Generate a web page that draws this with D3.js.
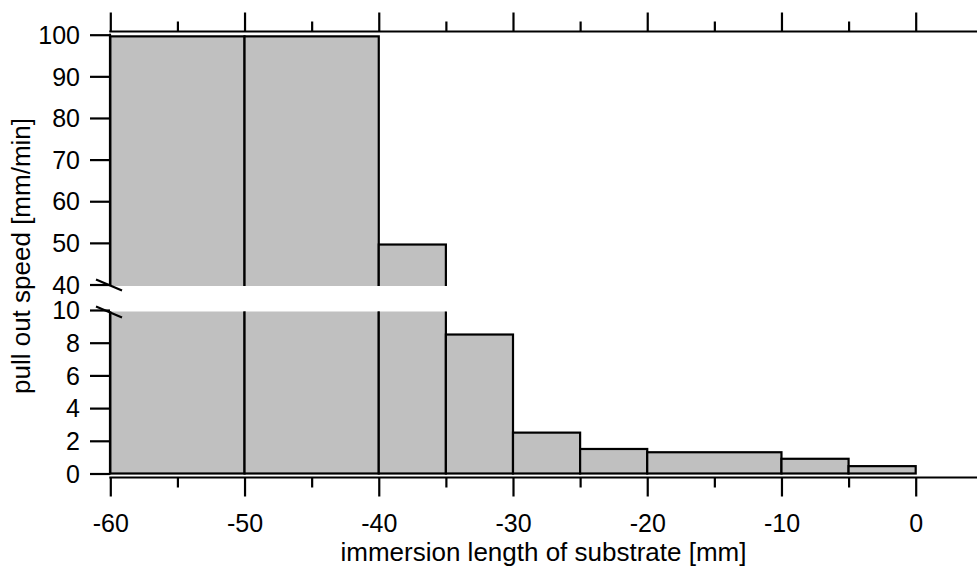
<!DOCTYPE html>
<html>
<head>
<meta charset="utf-8">
<script src="https://cdn.jsdelivr.net/npm/d3@7"></script>
<style>
  html, body { margin: 0; padding: 0; background: #fff; }
  svg { display: block; }
  text { font-family: "Liberation Sans", Arial, sans-serif; fill: #000; }
</style>
</head>
<body>
<svg id="chart" width="977" height="572"></svg>
<script>
// ---- data ----
const binStarts = [-60, -50, -40, -35, -30, -25, -20, -10, -5];
const binEnds   = [-50, -40, -35, -30, -25, -20, -10, -5, 0];
const speeds    = [99.6, 99.6, 49.6, 8.5, 2.5, 1.5, 1.3, 0.9, 0.45];
const xMajorTicks = [-60, -50, -40, -30, -20, -10, 0];
const xMinorTicks = [-55, -45, -35, -25, -15, -5];
const yUpperTicks = [40, 50, 60, 70, 80, 90, 100];
const yLowerTicks = [0, 2, 4, 6, 8, 10];
const xLabel = "immersion length of substrate [mm]";
const yLabel = "pull out speed [mm/min]";

const bins = binStarts.map((s, i) => ({ x0: s, x1: binEnds[i], v: speeds[i] }));

// ---- layout ----
const svg = d3.select("#chart");
const axisLeftX = 110;
const axisRightEnd = 977;
const x = d3.scaleLinear().domain([-60, 0]).range([110.3, 915.7]);
const yUp = d3.scaleLinear().domain([40, 100]).range([284.5, 34.7]);
const yLo = d3.scaleLinear().domain([0, 10]).range([473.5, 310]);
const upClipBottom = 286;
const loClipTop = 311.5;
const topAxisY = 31.5;
const botAxisY = 477.5;
const fontSize = 25;
const fill = "#c0c0c0";
const sw = 2.2;
const fmt = d => String(d);

const defs = svg.append("defs");
defs.append("clipPath").attr("id", "clipUp")
  .append("rect").attr("x", 0).attr("y", 0).attr("width", 977).attr("height", upClipBottom);
defs.append("clipPath").attr("id", "clipLo")
  .append("rect").attr("x", 0).attr("y", loClipTop).attr("width", 977).attr("height", 572 - loClipTop);

// upper panel bars
svg.append("g").attr("clip-path", "url(#clipUp)")
  .selectAll("rect").data(bins.filter(d => d.v > 40)).join("rect")
  .attr("x", d => x(d.x0)).attr("width", d => x(d.x1) - x(d.x0))
  .attr("y", d => yUp(d.v)).attr("height", d => yUp(30) - yUp(d.v))
  .attr("fill", fill).attr("stroke", "#000").attr("stroke-width", sw);

// lower panel bars
svg.append("g").attr("clip-path", "url(#clipLo)")
  .selectAll("rect").data(bins).join("rect")
  .attr("x", d => x(d.x0)).attr("width", d => x(d.x1) - x(d.x0))
  .attr("y", d => d.v > 10 ? yLo(12) : yLo(d.v))
  .attr("height", d => yLo(0) - (d.v > 10 ? yLo(12) : yLo(d.v)))
  .attr("fill", fill).attr("stroke", "#000").attr("stroke-width", sw);

// left axis, upper
const gUp = svg.append("g").attr("transform", `translate(${axisLeftX},0)`)
  .call(d3.axisLeft(yUp).tickValues(yUpperTicks).tickSize(20).tickPadding(10).tickSizeOuter(0).tickFormat(fmt));
gUp.select(".domain").remove();
svg.append("line").attr("x1", axisLeftX).attr("x2", axisLeftX)
  .attr("y1", yUp(100) - 1).attr("y2", upClipBottom)
  .attr("stroke", "#000").attr("stroke-width", sw);

// left axis, lower
const gLo = svg.append("g").attr("transform", `translate(${axisLeftX},0)`)
  .call(d3.axisLeft(yLo).tickValues(yLowerTicks).tickSize(20).tickPadding(10).tickSizeOuter(0).tickFormat(fmt));
gLo.select(".domain").remove();
svg.append("line").attr("x1", axisLeftX).attr("x2", axisLeftX)
  .attr("y1", loClipTop).attr("y2", yLo(0) + 1)
  .attr("stroke", "#000").attr("stroke-width", sw);

[gUp, gLo].forEach(g => {
  g.selectAll(".tick line").attr("stroke", "#000").attr("stroke-width", sw);
  g.selectAll(".tick text").attr("font-size", fontSize).attr("font-family", "Liberation Sans, Arial, sans-serif")
    .attr("dy", "0.35em");
});

// break marks
[[yUp(40) + 0.5], [yLo(10) + 2]].forEach(([cy]) => {
  svg.append("line").attr("x1", axisLeftX - 14).attr("y1", cy - 5.5)
    .attr("x2", axisLeftX + 12).attr("y2", cy + 5.5)
    .attr("stroke", "#000").attr("stroke-width", sw);
});

// bottom axis
const gBot = svg.append("g").attr("transform", `translate(0,${botAxisY})`)
  .call(d3.axisBottom(x).tickValues(xMajorTicks).tickSize(19).tickPadding(18).tickFormat(fmt));
const gBotMinor = svg.append("g").attr("transform", `translate(0,${botAxisY})`)
  .call(d3.axisBottom(x).tickValues(xMinorTicks).tickSize(10).tickFormat(""));
// top axis
const gTop = svg.append("g").attr("transform", `translate(0,${topAxisY})`)
  .call(d3.axisTop(x).tickValues(xMajorTicks).tickSize(19).tickFormat(""));
const gTopMinor = svg.append("g").attr("transform", `translate(0,${topAxisY})`)
  .call(d3.axisTop(x).tickValues(xMinorTicks).tickSize(10).tickFormat(""));

[gBot, gBotMinor, gTop, gTopMinor].forEach(g => {
  g.select(".domain").remove();
  g.selectAll(".tick line").attr("stroke", "#000").attr("stroke-width", sw);
});
gBot.selectAll(".tick text").attr("font-size", fontSize).attr("font-family", "Liberation Sans, Arial, sans-serif");

[topAxisY, botAxisY].forEach(yy => {
  svg.append("line").attr("x1", x(-60) - 1).attr("x2", axisRightEnd)
    .attr("y1", yy).attr("y2", yy).attr("stroke", "#000").attr("stroke-width", sw);
});

// axis titles
svg.append("text").attr("x", (110 + 977) / 2).attr("y", 561)
  .attr("text-anchor", "middle").attr("font-size", 26).text(xLabel);
svg.append("text").attr("transform", "translate(30,256) rotate(-90)")
  .attr("text-anchor", "middle").attr("font-size", 26).text(yLabel);
</script>
</body>
</html>
